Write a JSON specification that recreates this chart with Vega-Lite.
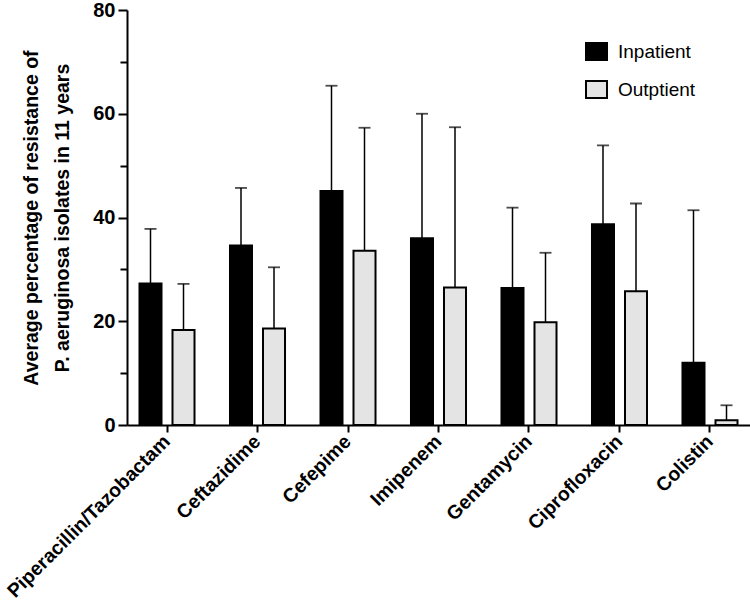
{
  "$schema": "https://vega.github.io/schema/vega-lite/v6.json",
  "autosize": {"type": "none"},
  "padding": {"left": 127, "top": 10, "right": 0, "bottom": 189},
  "width": 623,
  "height": 415,
  "background": "white",
  "data": {
    "values": [
      {"drug": "Piperacillin/Tazobactam", "group": "Inpatient", "value": 27.3, "upper": 37.8},
      {"drug": "Piperacillin/Tazobactam", "group": "Outptient", "value": 18.3, "upper": 27.2},
      {"drug": "Ceftazidime", "group": "Inpatient", "value": 34.6, "upper": 45.7},
      {"drug": "Ceftazidime", "group": "Outptient", "value": 18.6, "upper": 30.4},
      {"drug": "Cefepime", "group": "Inpatient", "value": 45.1, "upper": 65.4},
      {"drug": "Cefepime", "group": "Outptient", "value": 33.6, "upper": 57.3},
      {"drug": "Imipenem", "group": "Inpatient", "value": 36.0, "upper": 60.0},
      {"drug": "Imipenem", "group": "Outptient", "value": 26.5, "upper": 57.4},
      {"drug": "Gentamycin", "group": "Inpatient", "value": 26.4, "upper": 41.9},
      {"drug": "Gentamycin", "group": "Outptient", "value": 19.8, "upper": 33.2},
      {"drug": "Ciprofloxacin", "group": "Inpatient", "value": 38.7, "upper": 53.9},
      {"drug": "Ciprofloxacin", "group": "Outptient", "value": 25.8, "upper": 42.7},
      {"drug": "Colistin", "group": "Inpatient", "value": 12.0, "upper": 41.4},
      {"drug": "Colistin", "group": "Outptient", "value": 0.9, "upper": 3.8}
    ]
  },
  "encoding": {
    "x": {
      "field": "drug",
      "type": "nominal",
      "sort": null,
      "title": null,
      "scale": {"paddingInner": 0.392, "paddingOuter": 0.138},
      "axis": {
        "labelAngle": -45,
        "labelAlign": "right",
        "labelBaseline": "middle",
        "labelFont": "Liberation Sans",
        "labelFontWeight": "bold",
        "labelFontSize": 19.5,
        "labelColor": "black",
        "labelPadding": 6,
        "labelLimit": 400,
        "tickSize": 7,
        "tickWidth": 2,
        "tickColor": "black",
        "domainColor": "black",
        "domainWidth": 2
      }
    },
    "xOffset": {
      "field": "group",
      "type": "nominal",
      "scale": {"paddingInner": 0.333, "paddingOuter": 0}
    }
  },
  "layer": [
    {
      "mark": {"type": "rule", "color": "black", "strokeWidth": 1.5},
      "encoding": {
        "y": {"field": "value", "type": "quantitative"},
        "y2": {"field": "upper"}
      }
    },
    {
      "mark": {"type": "tick", "color": "black", "size": 12, "thickness": 1.8},
      "encoding": {
        "y": {"field": "upper", "type": "quantitative"}
      }
    },
    {
      "mark": {"type": "bar", "stroke": "black", "strokeWidth": 2},
      "encoding": {
        "y": {
          "field": "value",
          "type": "quantitative",
          "scale": {"domain": [0, 80], "nice": false},
          "axis": {
            "values": [0, 10, 20, 30, 40, 50, 60, 70, 80],
            "labelExpr": "datum.value % 20 === 0 ? datum.label : ''",
            "tickSize": {"condition": {"test": "datum.value % 20 === 0", "value": 9}, "value": 7},
            "tickWidth": 2,
            "tickColor": "black",
            "domainColor": "black",
            "domainWidth": 2,
            "grid": false,
            "labelFont": "Liberation Sans",
            "labelFontWeight": "bold",
            "labelFontSize": 20,
            "labelColor": "black",
            "labelPadding": 3,
            "title": ["Average percentage of resistance of", "P. aeruginosa isolates in 11 years"],
            "titleFont": "Liberation Sans",
            "titleFontWeight": "bold",
            "titleFontSize": 19.5,
            "titleColor": "black",
            "titleLineHeight": 31,
            "titlePadding": 20
          }
        },
        "color": {
          "field": "group",
          "type": "nominal",
          "scale": {"domain": ["Inpatient", "Outptient"], "range": ["black", "#e4e4e4"]},
          "legend": {
            "title": null,
            "orient": "none",
            "legendX": 458,
            "legendY": 30,
            "symbolType": "M-1,-0.8H1V0.8H-1Z",
            "symbolSize": 441,
            "symbolStrokeColor": "black",
            "symbolStrokeWidth": 2,
            "symbolOpacity": 1,
            "labelFont": "Liberation Sans",
            "labelFontSize": 19,
            "labelColor": "black",
            "labelOffset": 10,
            "rowPadding": 13
          }
        }
      }
    }
  ],
  "config": {
    "view": {"stroke": null}
  }
}
